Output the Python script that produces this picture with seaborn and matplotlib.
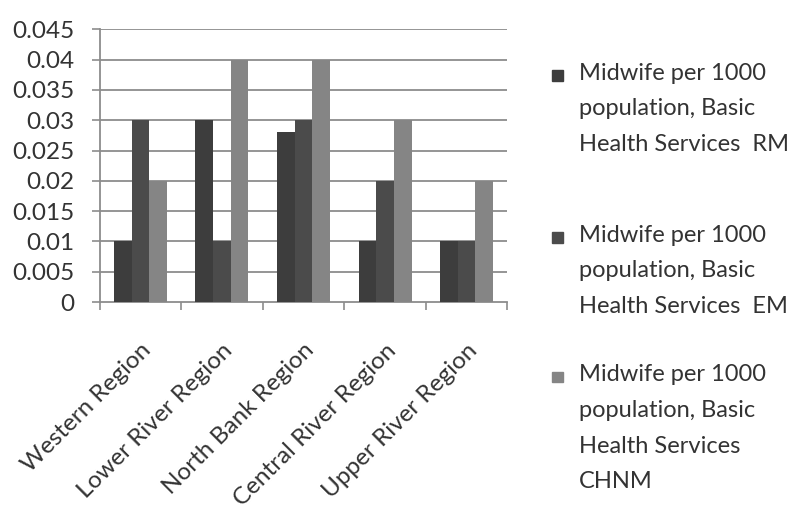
import pandas as pd
import numpy as np
import matplotlib
matplotlib.use("Agg")
import matplotlib.pyplot as plt
import seaborn as sns
from matplotlib.patches import Rectangle

# data
regions = ["Western Region", "Lower River Region", "North Bank Region",
           "Central River Region", "Upper River Region"]
series = ["Midwife per 1000\npopulation, Basic\nHealth Services  RM",
          "Midwife per 1000\npopulation, Basic\nHealth Services  EM",
          "Midwife per 1000\npopulation, Basic\nHealth Services\nCHNM"]
rm_values = [0.01, 0.03, 0.028, 0.01, 0.01]
em_values = [0.03, 0.01, 0.03, 0.02, 0.01]
chnm_values = [0.02, 0.04, 0.04, 0.03, 0.02]
y_ticks = [0, 0.005, 0.01, 0.015, 0.02, 0.025, 0.03, 0.035, 0.04, 0.045]
y_labels = ["0", "0.005", "0.01", "0.015", "0.02", "0.025", "0.03", "0.035", "0.04", "0.045"]

colors = ["#3d3d3d", "#4b4b4b", "#858585"]

df = pd.DataFrame({
    "region": regions * 3,
    "series": [series[0]] * 5 + [series[1]] * 5 + [series[2]] * 5,
    "value": rm_values + em_values + chnm_values,
})

sns.set_theme(style="white")
plt.rcParams["font.family"] = ["Lato", "DejaVu Sans"]

fig = plt.figure(figsize=(8.04, 5.31), dpi=100)
ax = fig.add_axes([0.124, 0.431, 0.507, 0.514])

sns.barplot(data=df, x="region", y="value", hue="series", palette=colors,
            width=0.65, saturation=1, legend=False, ax=ax, zorder=3,
            edgecolor="none", linewidth=0)

# horizontal gridlines
for t in y_ticks[1:]:
    ax.axhline(t, color="#8c8c8c", lw=1.3, zorder=1)

ax.set_ylim(0, 0.045)
ax.set_xlim(-0.5, 4.5)
ax.set_yticks(y_ticks)
ax.set_yticklabels(y_labels, fontsize=17.5, color="#333333")
ax.tick_params(axis="y", length=6, width=1.2, color="#8c8c8c", pad=12, left=True)

# x ticks at the category boundaries, labels at the centers
ax.set_xticks(np.arange(-0.5, 5, 1))
ax.set_xticklabels([""] * 6)
ax.set_xticks(range(5), minor=True)
ax.set_xticklabels(regions, minor=True, rotation=45, ha="right",
                   rotation_mode="anchor", fontsize=17.5, color="#333333")
ax.tick_params(axis="x", which="major", length=6, width=1.2, color="#8c8c8c", bottom=True)
ax.tick_params(axis="x", which="minor", length=0, pad=27)
ax.set_xlabel("")
ax.set_ylabel("")

for side in ["top", "right"]:
    ax.spines[side].set_visible(False)
for side in ["left", "bottom"]:
    ax.spines[side].set_color("#8c8c8c")
    ax.spines[side].set_linewidth(1.3)

# legend drawn by hand to keep the square on the first line
legend_y = [0.860, 0.555, 0.292]
for lab, col, yy in zip(series, colors, legend_y):
    fig.patches.append(Rectangle((0.687, yy - 0.012), 0.013, 0.02,
                                 transform=fig.transFigure, color=col))
    fig.text(0.720, yy + 0.022, lab, fontsize=17, color="#333333",
             va="top", ha="left", linespacing=1.86)

fig.savefig("out.png", dpi=100)
